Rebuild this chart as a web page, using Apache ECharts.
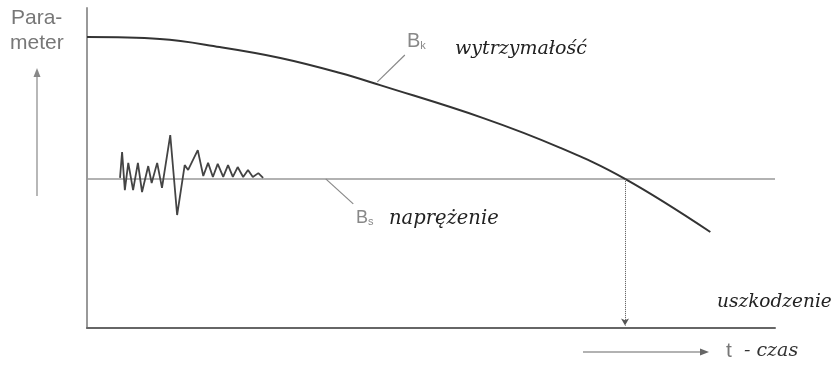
<!DOCTYPE html>
<html><head><meta charset="utf-8">
<script src="https://cdn.jsdelivr.net/npm/echarts@6/dist/echarts.min.js"></script>
<style>html,body{margin:0;padding:0;background:#fff}#c{width:838px;height:371px}</style>
</head><body><div id="c"></div>
<script>
// time axis t (0..100) and parameter axis (0..100)
const strengthT = [0, 10.6, 19.3, 28.1, 36.8, 42.6, 57.6, 68.8, 78.2, 90.6];
const strengthP = [90.9, 90.3, 87.8, 84.4, 79.7, 75.9, 65.6, 56.3, 46.6, 30.0];
const stressLevel = 46.6;
const stressT = [0, 100];
const noiseT = [4.8, 5.1, 5.5, 6.0, 6.7, 7.4, 8.0, 8.9, 9.4, 10.2, 10.9, 12.1, 13.1, 14.2, 14.7, 16.1, 16.9, 17.6, 18.3, 19.0, 19.8, 20.5, 21.2, 21.9, 22.7, 23.4, 24.1, 24.9, 25.6];
const noiseP = [46.9, 55.0, 43.1, 51.6, 43.1, 51.6, 42.5, 50.6, 45.3, 51.6, 43.8, 60.3, 35.3, 50.9, 49.4, 55.6, 47.5, 51.6, 47.2, 51.3, 47.2, 50.9, 47.2, 50.3, 47.2, 49.4, 47.2, 48.4, 46.9];
const failureT = 78.2;
const bkLeader = [[42.2, 76.9], [46.2, 85.3]];
const bsLeader = [[34.7, 46.6], [38.7, 38.8]];
const labels = {yName: ['Para-', 'meter'], bk: 'B', bkSub: 'k', strength: 'wytrzymałość', bs: 'B', bsSub: 's', stress: 'naprężenie', damage: 'uszkodzenie', t: 't', time: '- czas'};

const zip = (a, b) => a.map((v, i) => [v, b[i]]);
const chart = echarts.init(document.getElementById('c'));
const serif = '"DejaVu Serif", "Liberation Serif", serif';
const sans = '"Liberation Sans", Arial, sans-serif';
chart.setOption({
  animation: false,
  grid: {left: 87, right: 63, top: 8, bottom: 43},
  xAxis: {type: 'value', min: 0, max: 100, axisLine: {show: true, lineStyle: {color: '#666', width: 2}}, axisTick: {show: false}, axisLabel: {show: false}, splitLine: {show: false}},
  yAxis: {type: 'value', min: 0, max: 100, axisLine: {show: true, onZero: false, lineStyle: {color: '#999', width: 2}}, axisTick: {show: false}, axisLabel: {show: false}, splitLine: {show: false}},
  series: [
    {type: 'line', data: zip(stressT, stressT.map(() => stressLevel)), symbol: 'none', lineStyle: {color: '#999', width: 1.5},
      markLine: {silent: true, symbol: ['none', 'arrow'], symbolSize: [6, 7], label: {show: false},
        lineStyle: {type: 'dotted', color: '#555', width: 1},
        data: [[{coord: [failureT, stressLevel]}, {coord: [failureT, 0.8]}]]}},
    {type: 'line', data: zip(strengthT, strengthP), smooth: 0.4, symbol: 'none', lineStyle: {color: '#333', width: 2}},
    {type: 'line', data: zip(noiseT, noiseP), symbol: 'none', lineStyle: {color: '#444', width: 1.8}},
    {type: 'line', data: bkLeader, symbol: 'none', lineStyle: {color: '#888', width: 1.2}},
    {type: 'line', data: bsLeader, symbol: 'none', lineStyle: {color: '#888', width: 1.2}}
  ],
  graphic: [
    {type: 'text', left: 11, top: 8, style: {text: labels.yName[0], font: '21px ' + sans, fill: '#777'}},
    {type: 'text', left: 10, top: 33, style: {text: labels.yName[1], font: '21px ' + sans, fill: '#777'}},
    {type: 'line', shape: {x1: 37, y1: 196, x2: 37, y2: 74}, style: {stroke: '#888', lineWidth: 1.2}},
    {type: 'polygon', shape: {points: [[37, 68], [33.5, 77], [40.5, 77]]}, style: {fill: '#888'}},
    {type: 'text', left: 407, top: 31, style: {text: '{b|' + labels.bk + '}{s|' + labels.bkSub + '}', rich: {b: {font: '20px ' + sans, fill: '#888'}, s: {font: '11px ' + sans, fill: '#888', padding: [9, 0, 0, 0]}}}},
    {type: 'text', left: 455, top: 40, style: {text: labels.strength, font: 'italic 19px ' + serif, fill: '#222'}},
    {type: 'text', left: 356, top: 209, style: {text: '{b|' + labels.bs + '}{s|' + labels.bsSub + '}', rich: {b: {font: '18px ' + sans, fill: '#888'}, s: {font: '11px ' + sans, fill: '#888', padding: [8, 0, 0, 0]}}}},
    {type: 'text', left: 389, top: 209, style: {text: labels.stress, font: 'italic 19.5px ' + serif, fill: '#222'}},
    {type: 'text', left: 717, top: 293, style: {text: labels.damage, font: 'italic 18.5px ' + serif, fill: '#222'}},
    {type: 'line', shape: {x1: 583, y1: 352, x2: 702, y2: 352}, style: {stroke: '#666', lineWidth: 1.2}},
    {type: 'polygon', shape: {points: [[709, 352], [700, 348.5], [700, 355.5]]}, style: {fill: '#666'}},
    {type: 'text', left: 726, top: 341, style: {text: labels.t, font: '21px ' + sans, fill: '#777'}},
    {type: 'text', left: 744, top: 342, style: {text: labels.time, font: 'italic 19px ' + serif, fill: '#333'}}
  ]
});
</script></body></html>
